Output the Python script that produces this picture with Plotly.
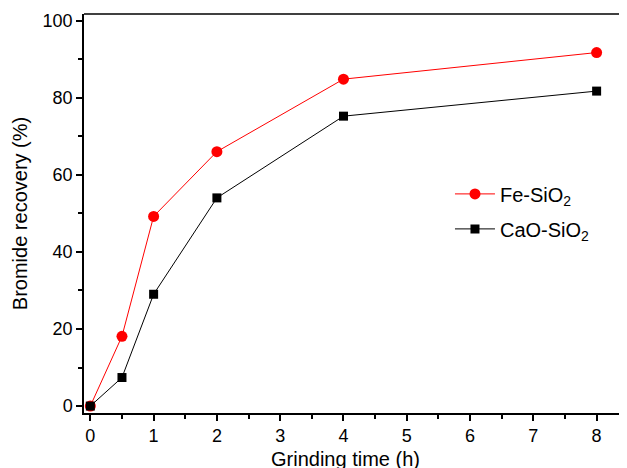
import plotly.graph_objects as go

time_h = [0, 0.5, 1, 2, 4, 8]
fe_sio2 = [0, 18.1, 49.2, 66.0, 84.8, 91.7]
cao_sio2 = [0, 7.4, 29.0, 54.0, 75.2, 81.7]

font_family = "Liberation Sans, Arial, sans-serif"

fig = go.Figure()
fig.add_trace(go.Scatter(
    x=time_h, y=fe_sio2, mode="lines+markers", name="Fe-SiO<sub>2</sub>",
    legendgroup="a",
    line=dict(color="#ff0000", width=1),
    marker=dict(symbol="circle", size=11, color="#ff0000"),
))
fig.add_trace(go.Scatter(
    x=time_h, y=cao_sio2, mode="lines+markers", name="CaO-SiO<sub>2</sub>",
    legendgroup="b",
    line=dict(color="#000000", width=1),
    marker=dict(symbol="square", size=9, color="#000000"),
))

fig.update_layout(
    width=627, height=468,
    margin=dict(l=76, r=8, t=6, b=63),
    paper_bgcolor="white", plot_bgcolor="white",
    font=dict(family=font_family, size=18, color="black"),
    showlegend=True,
    legend=dict(
        x=0.674, y=0.598, xanchor="left", yanchor="top",
        bgcolor="rgba(0,0,0,0)", font=dict(size=20),
        tracegroupgap=6, itemwidth=40,
    ),
    xaxis=dict(
        range=[-0.1, 8.48], tickmode="array", tickvals=list(range(0, 9)),
        ticks="outside", ticklen=6, tickwidth=1.5, tickcolor="black",
        minor=dict(tickvals=[i + 0.5 for i in range(-1, 9)], ticks="outside", ticklen=4, tickwidth=1.5, tickcolor="black"),
        showline=True, linecolor="black", linewidth=1.5, mirror=False,
        showgrid=False, zeroline=False, automargin=False,
        tickfont=dict(size=18),
    ),
    yaxis=dict(
        range=[-1.8, 101.7], tickmode="array", tickvals=[0, 20, 40, 60, 80, 100],
        ticks="outside", ticklen=6, tickwidth=1.5, tickcolor="black",
        minor=dict(tickvals=[10, 30, 50, 70, 90], ticks="outside", ticklen=4, tickwidth=1.5, tickcolor="black"),
        showline=True, linecolor="black", linewidth=1.5,
        showgrid=False, zeroline=False, automargin=False,
        title=dict(text="Bromide recovery (%)", font=dict(size=20), standoff=10),
        tickfont=dict(size=18),
    ),
    annotations=[dict(text="Grinding time (h)", xref="paper", yref="paper",
                      x=0.4807, y=-0.082, xanchor="center", yanchor="top",
                      showarrow=False, font=dict(size=20))],
    shapes=[dict(type="line", xref="paper", yref="paper", x0=0, x1=1, y0=1, y1=1,
                 line=dict(color="black", width=1.5))],
)

fig.write_html("out.html")
